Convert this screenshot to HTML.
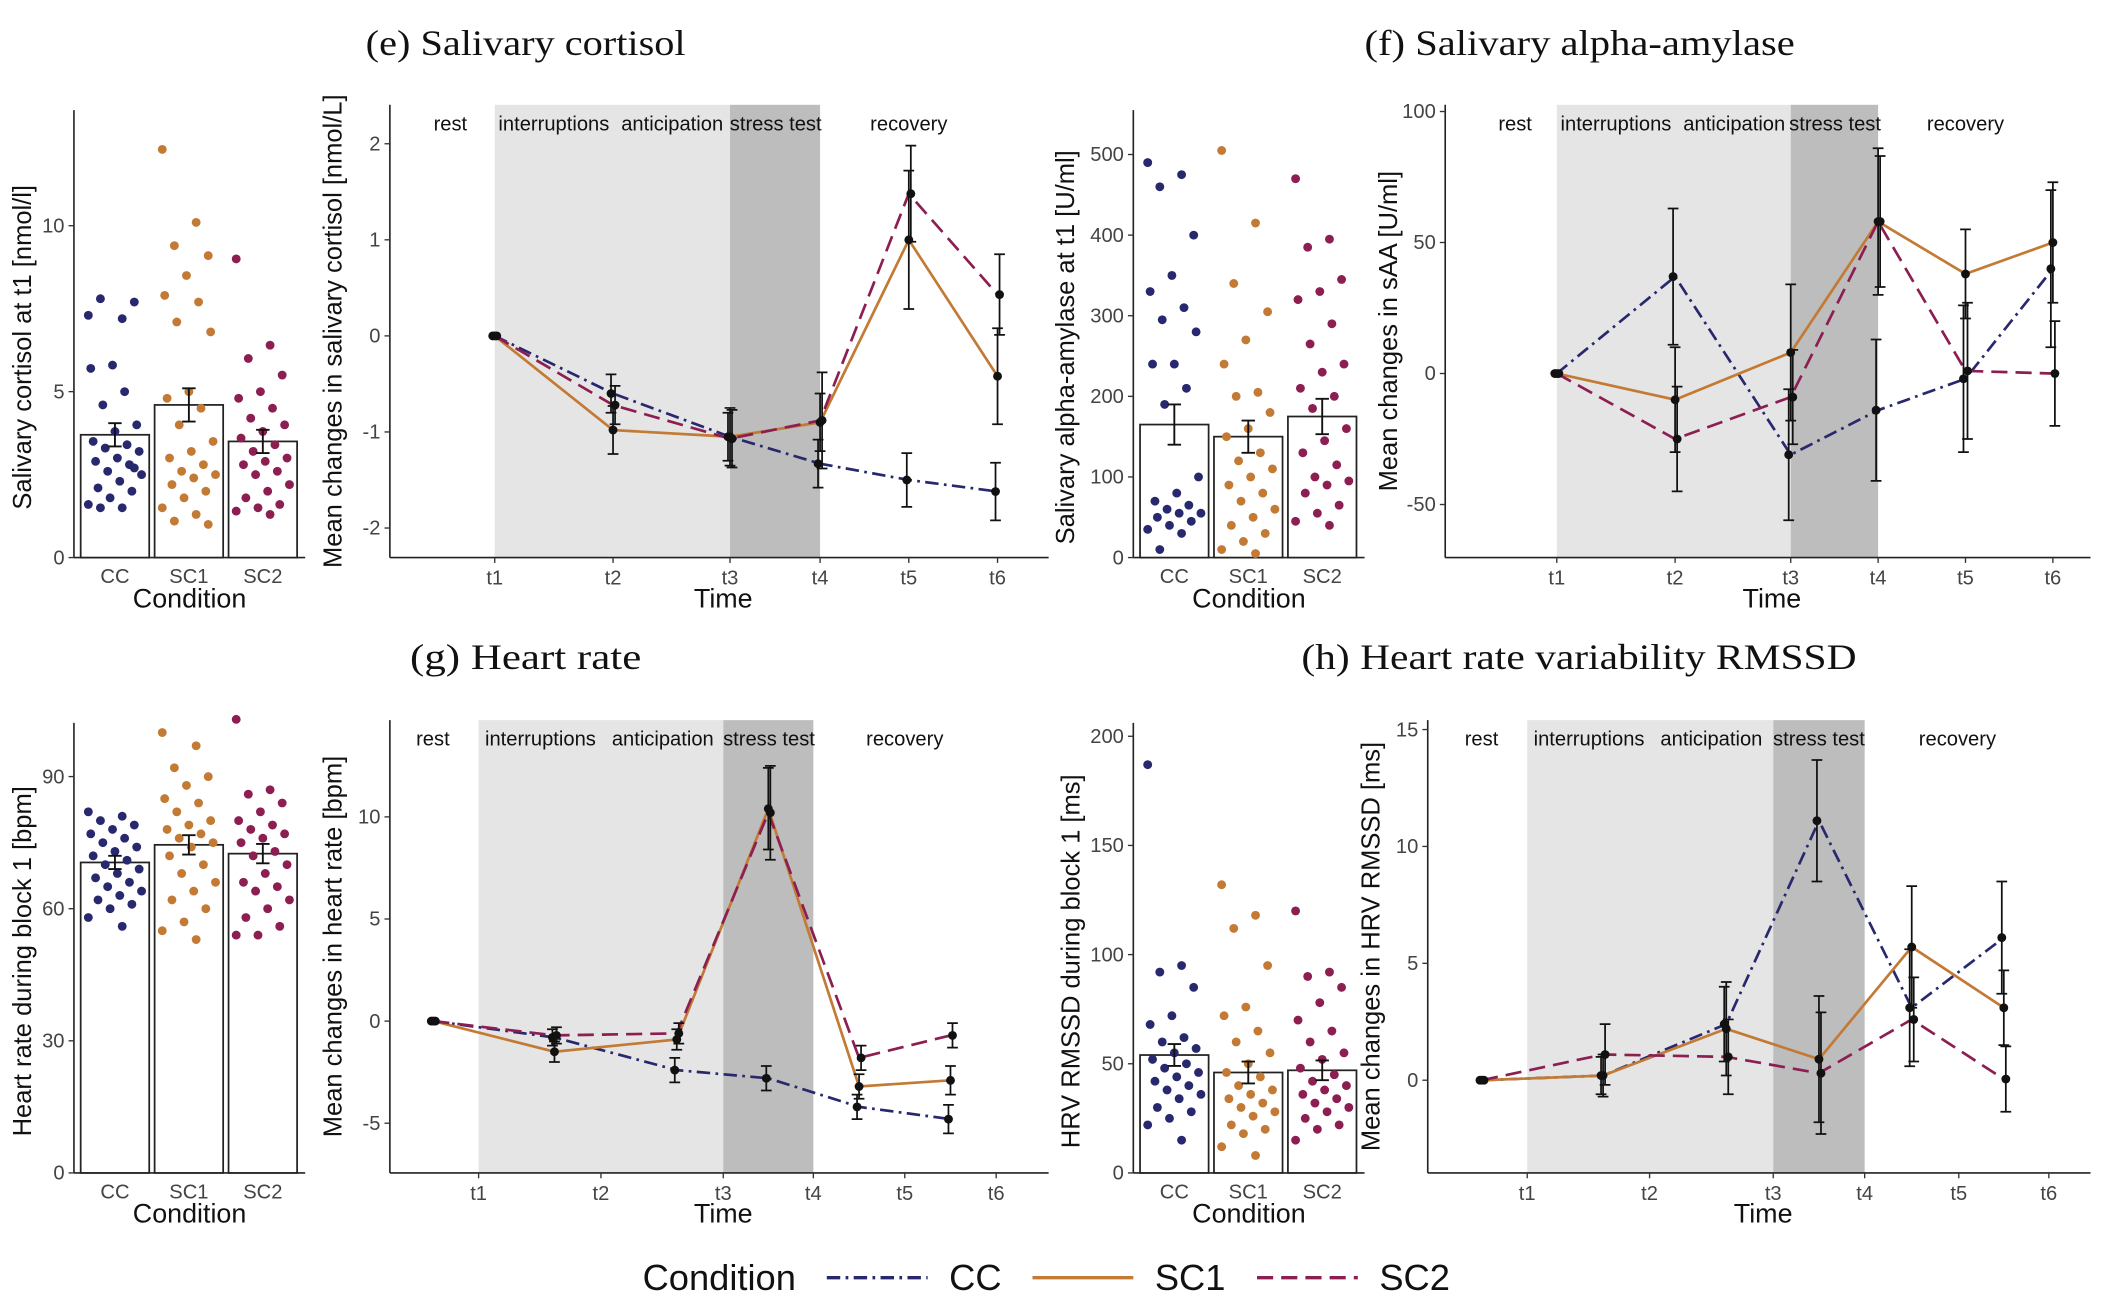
<!DOCTYPE html>
<html><head><meta charset="utf-8">
<style>
html,body{margin:0;padding:0;background:#fff;}
svg{display:block;font-family:"Liberation Sans",sans-serif;}
.serif{font-family:"Liberation Serif",serif;}
</style></head>
<body>
<svg id="fig" width="2108" height="1314" viewBox="0 0 1568 978" preserveAspectRatio="none" xmlns="http://www.w3.org/2000/svg"></svg>
<script>
// ---------- DATA ----------
const conditions = ["CC","SC1","SC2"];
const colors = {CC:"#27286e", SC1:"#c27a34", SC2:"#8c1e52"};
const dashes = {CC:"10,4,2,4", SC1:"", SC2:"12,6"};
const timeTicks = ["t1","t2","t3","t4","t5","t6"];
const phaseLabels = ["rest","interruptions","anticipation","stress test","recovery"];

// (e) cortisol
const cortBarMeans = [3.7, 4.6, 3.5];
const cortBarErr = [0.35, 0.5, 0.35];
const cortCC = [7.3,7.2,7.8,7.7,5.8,5.7,5.0,4.6,4.0,3.8,3.5,3.4,3.3,3.2,3.0,2.9,2.8,2.6,2.5,2.3,2.1,2.0,1.8,1.6,1.5,1.5,2.7];
const cortSC1 = [12.3,10.1,9.4,9.1,8.5,7.9,7.7,7.1,6.8,5.0,4.8,4.5,4.0,3.5,3.2,3.0,2.8,2.6,2.5,2.4,2.2,2.0,1.8,1.5,1.3,1.1,1.0];
const cortSC2 = [9.0,6.4,6.0,5.5,5.0,4.8,4.5,4.2,4.0,3.8,3.6,3.4,3.2,3.0,2.9,2.8,2.6,2.5,2.2,2.0,1.8,1.6,1.5,1.4,1.3];
const cortTimes = [1,2,3,4,5,6];
const cortLineCC = [0,-0.6,-1.05,-1.33,-1.5,-1.62];
const cortLineSC1 = [0,-0.98,-1.05,-0.9,1.0,-0.42];
const cortLineSC2 = [0,-0.72,-1.07,-0.88,1.48,0.43];
const cortErrCC = [0,0.2,0.25,0.25,0.28,0.3];
const cortErrSC1 = [0,0.25,0.3,0.3,0.72,0.5];
const cortErrSC2 = [0,0.2,0.3,0.5,0.5,0.42];

// (f) sAA
const saaBarMeans = [165, 150, 175];
const saaBarErr = [25, 20, 22];
const saaCC = [490,475,460,400,350,330,310,295,280,240,240,210,190,100,80,70,65,60,55,55,50,45,40,35,30,10];
const saaSC1 = [505,415,340,305,270,240,205,200,180,160,150,130,120,110,100,90,80,70,60,50,40,30,20,10,5];
const saaSC2 = [470,395,385,345,330,320,290,265,240,230,210,200,185,160,145,130,115,100,95,90,80,65,55,45,40];
const saaTimes = [1,2,3,4,5,6];
const saaLineCC = [0,37,-31,-14,-2,40];
const saaLineSC1 = [0,-10,8,58,38,50];
const saaLineSC2 = [0,-25,-9,58,1,0];
const saaErrCC = [0,26,25,27,28,30];
const saaErrSC1 = [0,20,26,28,17,23];
const saaErrSC2 = [0,20,18,25,26,20];

// (g) heart rate
const hrBarMeans = [70.5, 74.5, 72.5];
const hrBarErr = [1.5, 2.2, 2.2];
const hrCC = [82,81,80,79,78,77,76,75,74,73,72,71,70,69,68,67,66,65,64,63,62,61,60,58,56];
const hrSC1 = [100,97,92,90,88,85,84,82,80,79,78,77,76,75,74,72,70,68,66,64,62,60,57,55,53];
const hrSC2 = [103,87,86,84,82,80,79,78,77,76,75,73,72,70,68,66,65,64,62,60,58,56,54,54];
const hrTimes = [0.63,1.62,2.62,3.5,4.5,5.5];
const hrLineCC = [0,-0.8,-2.4,-2.8,-4.2,-4.8];
const hrLineSC1 = [0,-1.5,-0.9,10.4,-3.2,-2.9];
const hrLineSC2 = [0,-0.7,-0.6,10.2,-1.8,-0.7];
const hrErrCC = [0,0.4,0.6,0.6,0.6,0.7];
const hrErrSC1 = [0,0.5,0.5,2.0,0.6,0.7];
const hrErrSC2 = [0,0.4,0.5,2.3,0.6,0.6];

// (h) HRV
const hrvBarMeans = [54, 46, 47];
const hrvBarErr = [5, 5, 4.5];
const hrvCC = [187,95,92,85,72,68,62,60,57,55,52,50,48,46,44,42,40,38,36,34,30,28,25,22,15];
const hrvSC1 = [132,118,112,95,76,72,65,60,55,50,46,44,40,38,36,34,32,30,28,26,22,20,18,12,8];
const hrvSC2 = [120,92,90,85,78,70,65,60,55,52,48,45,42,40,38,36,34,32,30,28,25,22,20,15];
const hrvTimes = [0.63,1.62,2.62,3.5,4.5,5.5];
const hrvLineCC = [0,0.2,2.4,11.1,3.1,6.1];
const hrvLineSC1 = [0,0.2,2.2,0.9,5.7,3.1];
const hrvLineSC2 = [0,1.1,1.0,0.3,2.6,0.05];
const hrvErrCC = [0,0.8,1.6,2.6,2.5,2.4];
const hrvErrSC1 = [0,0.9,2.0,2.7,2.6,1.6];
const hrvErrSC2 = [0,1.3,1.6,2.6,1.8,1.4];

// ---------- DRAW ----------
const NS="http://www.w3.org/2000/svg";
const svg=document.getElementById('fig');
function el(tag,attrs,parent,text){
  const e=document.createElementNS(NS,tag);
  for(const k in attrs) e.setAttribute(k,attrs[k]);
  if(text!==undefined) e.textContent=text;
  (parent||svg).appendChild(e);
  return e;
}
function lin(d0,d1,r0,r1){return v=>r0+(v-d0)*(r1-r0)/(d1-d0);}

function barPanel(name,cfg){
  const g=el('g',{});
  
  
  const y=lin(0,cfg.vMax,cfg.y0,cfg.yMaxPx);
  el('line',{x1:cfg.ax,y1:cfg.yTop,x2:cfg.ax,y2:cfg.y0,stroke:'#222','stroke-width':1.2},g);
  el('line',{x1:cfg.ax,y1:cfg.y0,x2:cfg.ax+172,y2:cfg.y0,stroke:'#222','stroke-width':1.2},g);
  cfg.ticks.forEach(t=>{
    el('line',{x1:cfg.ax-4,y1:y(t),x2:cfg.ax,y2:y(t),stroke:'#333'},g);
    const tl=el('text',{x:cfg.ax-7,y:y(t)+5,'font-size':15,'text-anchor':'end',fill:'#444'},g,String(t));
    
    
  });
  const yl=el('text',{transform:`translate(${cfg.ax-cfg.titleOff},${(cfg.y0+cfg.yTop)/2+10}) rotate(-90)`,'font-size':19,'text-anchor':'middle',fill:'#111'},g,cfg.ylab);
  
  
  const xl=el('text',{x:cfg.ax+86,y:cfg.y0+37,'font-size':20,'text-anchor':'middle',fill:'#111'},g,'Condition');
  
  
  conditions.forEach((c,i)=>{
    const bx=cfg.ax+5+i*55, bw=51, cx=bx+bw/2;
    const r=el('rect',{x:bx,y:y(cfg.means[i]),width:bw,height:cfg.y0-y(cfg.means[i]),fill:'#fff',stroke:'#222','stroke-width':1.3},g);
    
    
    cfg.pts[i].forEach((v,j)=>{
      const jit=((j*37)%23-11)*1.8;
      const p=el('circle',{cx:cx+jit,cy:y(v),r:3.3,fill:colors[c]},g);
      
      
    });
    const e=cfg.err[i];
    el('path',{d:`M${cx} ${y(cfg.means[i]+e)}V${y(cfg.means[i]-e)}M${cx-5} ${y(cfg.means[i]+e)}h10M${cx-5} ${y(cfg.means[i]-e)}h10`,stroke:'#111','stroke-width':1.4,fill:'none'},g);
    const tl=el('text',{x:cx,y:cfg.y0+19,'font-size':15,'text-anchor':'middle',fill:'#444'},g,c);
    
    
  });
}

function linePanel(name,cfg){
  const g=el('g',{});
  
  
  const tx=cfg.tickX;
  const x=t=>{
    if(t<=1) return tx[0]+(t-1)*(tx[1]-tx[0]);
    const i=Math.min(Math.floor(t),5);
    if(i>=6) return tx[5];
    const f=t-i; return tx[i-1]+f*(tx[i]-tx[i-1]);
  };
  const y=lin(0,cfg.refV,cfg.zeroY,cfg.refY);
  el('rect',{x:tx[0],y:cfg.yTop,width:tx[2]-tx[0],height:cfg.axY-cfg.yTop,fill:'#e5e5e5'},g);
  el('rect',{x:tx[2],y:cfg.yTop,width:tx[3]-tx[2],height:cfg.axY-cfg.yTop,fill:'#bdbdbd'},g);
  el('line',{x1:cfg.ax,y1:cfg.yTop,x2:cfg.ax,y2:cfg.axY,stroke:'#222','stroke-width':1.2},g);
  el('line',{x1:cfg.ax,y1:cfg.axY,x2:cfg.axR,y2:cfg.axY,stroke:'#222','stroke-width':1.2},g);
  cfg.ticks.forEach(t=>{
    el('line',{x1:cfg.ax-4,y1:y(t),x2:cfg.ax,y2:y(t),stroke:'#333'},g);
    const tl=el('text',{x:cfg.ax-7,y:y(t)+5,'font-size':15,'text-anchor':'end',fill:'#444'},g,String(t));
    
    
  });
  timeTicks.forEach((t,i)=>{
    el('line',{x1:tx[i],y1:cfg.axY,x2:tx[i],y2:cfg.axY+4,stroke:'#333'},g);
    const tl=el('text',{x:tx[i],y:cfg.axY+20,'font-size':15,'text-anchor':'middle',fill:'#444'},g,t);
    
    
  });
  cfg.phaseX.forEach((px,i)=>{
    const pl=el('text',{x:px,y:cfg.yTop+19,'font-size':15,'text-anchor':'middle',fill:'#111'},g,phaseLabels[i]);
    
    
  });
  const yl=el('text',{transform:`translate(${cfg.ax-36},${(cfg.axY+cfg.yTop)/2}) rotate(-90)`,'font-size':19,'text-anchor':'middle',fill:'#111'},g,cfg.ylab);
  
  
  const xl=el('text',{x:(cfg.ax+cfg.axR)/2+3,y:cfg.axY+37,'font-size':20,'text-anchor':'middle',fill:'#111'},g,'Time');
  
  
  conditions.forEach((c,k)=>{
    const vals=cfg.series[k];
    const d=vals.map((v,i)=>(i?'L':'M')+x(cfg.times[i])+' '+y(v)).join('');
    const ln=el('path',{d,stroke:colors[c],'stroke-width':2,fill:'none','stroke-dasharray':dashes[c]},g);
    
    
  });
  conditions.forEach((c,k)=>{
    const vals=cfg.series[k], errs=cfg.errs[k];
    vals.forEach((v,i)=>{
      const px=x(cfg.times[i])+(k-1)*1.5;
      if(errs[i]>0) el('path',{d:`M${px} ${y(v+errs[i])}V${y(v-errs[i])}M${px-4} ${y(v+errs[i])}h8M${px-4} ${y(v-errs[i])}h8`,stroke:'#111','stroke-width':1.3,fill:'none'},g);
      const p=el('circle',{cx:px,cy:y(v),r:3.3,fill:'#111'},g);
      
      
    });
  });
}

function title(txt,x,y,w){
  const t=el('text',{x,y,'font-size':27,class:'serif',fill:'#111',textLength:w,lengthAdjust:'spacingAndGlyphs'},svg,txt);
  
  
}
title('(e) Salivary cortisol',272,41,238);
title('(f) Salivary alpha-amylase',1015,41,320);
title('(g) Heart rate',305,498,172);
title('(h) Heart rate variability RMSSD',968,498,413);

barPanel('cortisol-bar-panel',{ax:55,titleOff:32,y0:415,yTop:82,vMax:10,yMaxPx:168,ticks:[0,5,10],means:cortBarMeans,err:cortBarErr,pts:[cortCC,cortSC1,cortSC2],ylab:'Salivary cortisol at t1 [nmol/l]'});
barPanel('saa-bar-panel',{ax:843,titleOff:44,y0:415,yTop:82,vMax:500,yMaxPx:115,ticks:[0,100,200,300,400,500],means:saaBarMeans,err:saaBarErr,pts:[saaCC,saaSC1,saaSC2],ylab:'Salivary alpha-amylase at t1 [U/ml]'});
barPanel('hr-bar-panel',{ax:55,titleOff:32,y0:873,yTop:538,vMax:90,yMaxPx:578,ticks:[0,30,60,90],means:hrBarMeans,err:hrBarErr,pts:[hrCC,hrSC1,hrSC2],ylab:'Heart rate during block 1 [bpm]'});
barPanel('hrv-bar-panel',{ax:843,titleOff:40,y0:873,yTop:538,vMax:200,yMaxPx:548,ticks:[0,50,100,150,200],means:hrvBarMeans,err:hrvBarErr,pts:[hrvCC,hrvSC1,hrvSC2],ylab:'HRV RMSSD during block 1 [ms]'});

linePanel('cortisol-line-panel',{ax:290,axR:780,axY:415,yTop:78,tickX:[368,456,543,610,676,742],zeroY:250,refV:1,refY:178.5,ticks:[-2,-1,0,1,2],phaseX:[335,412,500,577,676],times:cortTimes,series:[cortLineCC,cortLineSC1,cortLineSC2],errs:[cortErrCC,cortErrSC1,cortErrSC2],ylab:'Mean changes in salivary cortisol [nmol/L]'});
linePanel('saa-line-panel',{ax:1075,axR:1555,axY:415,yTop:78,tickX:[1158,1246,1332,1397,1462,1527],zeroY:278,refV:50,refY:180.5,ticks:[-50,0,50,100],phaseX:[1127,1202,1290,1365,1462],times:saaTimes,series:[saaLineCC,saaLineSC1,saaLineSC2],errs:[saaErrCC,saaErrSC1,saaErrSC2],ylab:'Mean changes in sAA [U/ml]'});
linePanel('hr-line-panel',{ax:290,axR:780,axY:873,yTop:536,tickX:[356,447,538,605,673,741],zeroY:760,refV:5,refY:684,ticks:[-5,0,5,10],phaseX:[322,402,493,572,673],times:hrTimes,series:[hrLineCC,hrLineSC1,hrLineSC2],errs:[hrErrCC,hrErrSC1,hrErrSC2],ylab:'Mean changes in heart rate [bpm]'});
linePanel('hrv-line-panel',{ax:1062,axR:1555,axY:873,yTop:536,tickX:[1136,1227,1319,1387,1457,1524],zeroY:804,refV:5,refY:717,ticks:[0,5,10,15],phaseX:[1102,1182,1273,1353,1456],times:hrvTimes,series:[hrvLineCC,hrvLineSC1,hrvLineSC2],errs:[hrvErrCC,hrvErrSC1,hrvErrSC2],ylab:'Mean changes in HRV RMSSD [ms]'});

// legend
const lg=el('g',{});


el('text',{x:478,y:960,'font-size':27,fill:'#111'},lg,'Condition');
const legX=[615,768,935];
conditions.forEach((c,i)=>{
  const e=el('g',{},lg);
  
  
  el('line',{x1:legX[i],y1:951,x2:legX[i]+75,y2:951,stroke:colors[c],'stroke-width':2.5,'stroke-dasharray':dashes[c]},e);
  el('text',{x:legX[i]+91,y:960,'font-size':27,fill:'#111'},e,c);
});
</script>
</body></html>
